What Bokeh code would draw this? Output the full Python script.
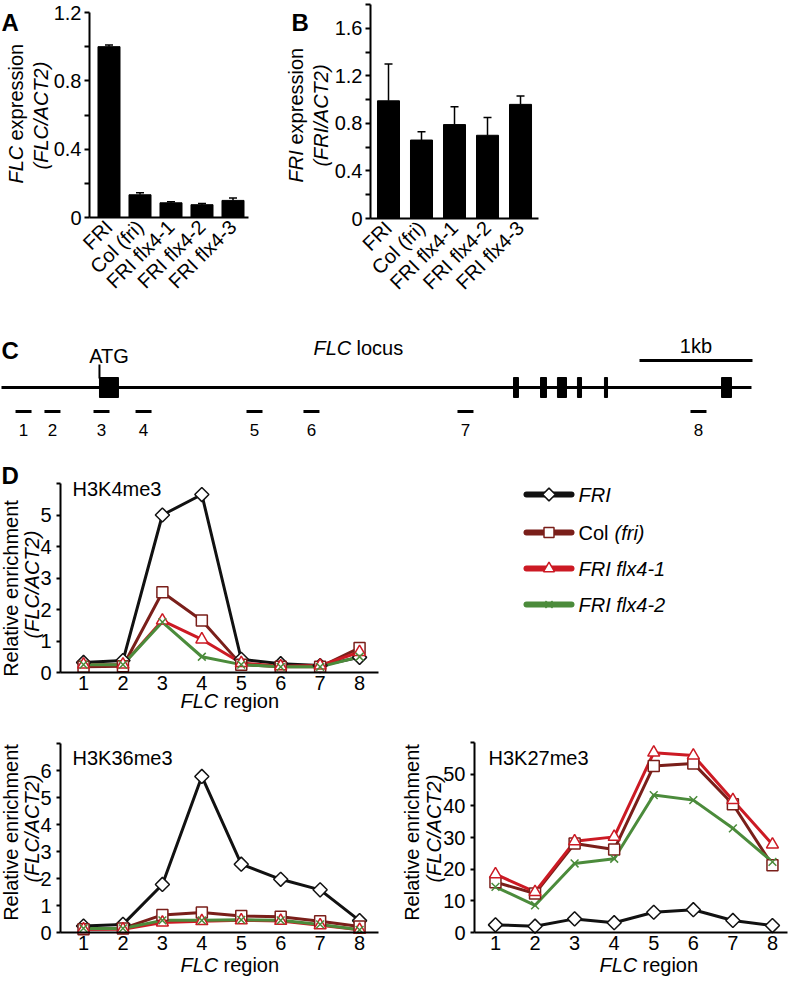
import math
from bokeh.plotting import figure
from bokeh.models import Range1d, FixedTicker, Label, Whisker, TeeHead, ColumnDataSource, LinearAxis
from bokeh.layouts import column, row
from bokeh.core.properties import value
from bokeh.embed import file_html
from bokeh.resources import INLINE

FONT = "Liberation Sans"
FS = "20px"

# ---------------- data ----------------
genotypes = ["FRI", "Col (fri)", "FRI flx4-1", "FRI flx4-2", "FRI flx4-3"]
flc_expression = [1.00, 0.133, 0.086, 0.075, 0.100]
flc_error = [0.010, 0.012, 0.006, 0.007, 0.014]
fri_expression = [0.99, 0.66, 0.79, 0.70, 0.96]
fri_error = [0.31, 0.07, 0.15, 0.15, 0.07]

locus_length_bp = 6637
exon_start_bp = [867, 4531, 4770, 4920, 5097, 5336, 6372]
exon_end_bp = [1035, 4575, 4823, 5000, 5133, 5363, 6460]
atg_bp = 867
primer_center_bp = [195, 451, 885, 1257, 2239, 2743, 4106, 6168]
primer_labels = ["1", "2", "3", "4", "5", "6", "7", "8"]
scale_bar_bp = [5646, 6646]

regions = [1, 2, 3, 4, 5, 6, 7, 8]
series_names = ["FRI", "Col (fri)", "FRI flx4-1", "FRI flx4-2"]

h3k4_fri = [0.32, 0.38, 5.00, 5.65, 0.42, 0.28, 0.22, 0.48]
h3k4_col = [0.18, 0.20, 2.55, 1.65, 0.25, 0.18, 0.18, 0.78]
h3k4_flx41 = [0.25, 0.25, 1.65, 1.05, 0.30, 0.20, 0.22, 0.65]
h3k4_flx42 = [0.25, 0.25, 1.60, 0.50, 0.25, 0.18, 0.18, 0.50]

h3k36_fri = [0.24, 0.30, 1.78, 5.78, 2.53, 1.97, 1.58, 0.44]
h3k36_col = [0.12, 0.15, 0.65, 0.74, 0.61, 0.58, 0.42, 0.22]
h3k36_flx41 = [0.12, 0.12, 0.37, 0.42, 0.45, 0.43, 0.27, 0.10]
h3k36_flx42 = [0.15, 0.15, 0.45, 0.45, 0.47, 0.45, 0.30, 0.10]

h3k27_fri = [2.4, 2.0, 4.3, 3.1, 6.4, 7.2, 3.8, 2.2]
h3k27_col = [15.9, 12.3, 28.1, 26.2, 52.6, 53.4, 40.5, 21.2]
h3k27_flx41 = [18.4, 12.8, 28.8, 30.2, 56.8, 55.9, 41.8, 27.8]
h3k27_flx42 = [14.4, 8.6, 21.8, 23.3, 43.4, 41.8, 32.9, 22.3]

# ---------------- styles ----------------
COLORS = ["#111111", "#7a1f1a", "#cc1a24", "#4b8b3b"]
MARKERS = ["square", "square", "triangle", "x"]
ANGLES = [math.pi / 4, 0, 0, 0]
SIZES = [10, 11, 12, 11]
LEG_SIZES = [9, 10, 11, 10]
ITAL_GAP = 43  # width of an italic "FLC"/"FRI"-like word plus a space, px


def plain_fig(W, H, xr, yr):
    p = figure(width=W, height=H, x_range=Range1d(*xr), y_range=Range1d(*yr),
               output_backend="svg", toolbar_location=None, title=None,
               min_border_left=0, min_border_right=0, min_border_top=0, min_border_bottom=0,
               background_fill_color="white", border_fill_color="white",
               outline_line_color=None, x_axis_location=None, y_axis_location=None)
    p.grid.visible = False
    return p


def axes_fig(W, H, l, r, t, b, xr, yr):
    """Frame spans the whole canvas; axes are fixed at the inner box edges."""
    fw = W - l - r
    fh = H - t - b
    sx = (xr[1] - xr[0]) / fw
    sy = (yr[1] - yr[0]) / fh
    X = (xr[0] - l * sx, xr[1] + r * sx)
    Y = (yr[0] - b * sy, yr[1] + t * sy)
    p = plain_fig(W, H, X, Y)
    xax = LinearAxis(fixed_location=yr[0], bounds=xr)
    yax = LinearAxis(fixed_location=xr[0], bounds=yr)
    p.add_layout(xax, "below")
    p.add_layout(yax, "left")

    def c(px, py):
        return X[0] + px * sx, Y[1] - py * sy
    return p, xax, yax, c


def style_axis(ax, tick_out=5, standoff=4):
    ax.axis_line_width = 2
    ax.axis_line_color = "black"
    ax.major_tick_line_width = 2
    ax.major_tick_line_color = "black"
    ax.major_tick_out = tick_out
    ax.major_tick_in = 0
    ax.minor_tick_out = 0
    ax.minor_tick_in = 0
    ax.major_label_text_font = FONT
    ax.major_label_text_font_size = FS
    ax.major_label_text_color = "black"
    ax.major_label_standoff = standoff


def lab(p, c, px, py, text, style="normal", size=FS, align="left", baseline="middle", angle=0):
    x, y = c(px, py)
    p.add_layout(Label(x=x, y=y, text=text, text_font=FONT, text_font_size=size,
                       text_font_style=style, text_align=align, text_baseline=baseline,
                       angle=angle, text_color="black"))


# ---------------- panels A, B ----------------
def bar_panel(W, H, l, r, t, b, xr, yr, vals, errs, ticks, overrides, bar_w, letter, lx,
              ital, rest, ital_len, line1_x, line1_start, line2, line2_x, line2_y):
    p, xax, yax, c = axes_fig(W, H, l, r, t, b, xr, yr)
    xs = list(range(1, len(vals) + 1))
    src = ColumnDataSource(dict(x=xs, top=vals, upper=[v + e for v, e in zip(vals, errs)]))
    p.vbar(x="x", top="top", width=bar_w, source=src, fill_color="black", line_color="black")
    p.add_layout(Whisker(source=src, base="x", lower="top", upper="upper",
                         line_color="black", line_width=1.5,
                         upper_head=TeeHead(size=8, line_color="black", line_width=1.5),
                         lower_head=None))
    yax.ticker = FixedTicker(ticks=ticks)
    yax.major_label_overrides = overrides
    style_axis(yax, tick_out=5, standoff=3)
    xax.ticker = FixedTicker(ticks=xs)
    xax.major_label_overrides = {i + 1: g for i, g in enumerate(genotypes)}
    xax.major_label_orientation = math.pi / 4
    style_axis(xax, tick_out=0, standoff=6)
    lab(p, c, lx, 22, letter, style="bold", size="24px", baseline="alphabetic")
    lab(p, c, line1_x, line1_start, ital, style="italic", angle=math.pi / 2)
    lab(p, c, line1_x, line1_start - ital_len, rest, angle=math.pi / 2)
    lab(p, c, line2_x, line2_y, line2, style="italic", align="center", angle=math.pi / 2)
    return p


figA = bar_panel(270, 328, 89, 22, 12, 111, (0.371, 5.50), (0, 1.2),
                 flc_expression, flc_error, [0, 0.2, 0.4, 0.6, 0.8, 1.0, 1.2],
                 {0: "0", 0.2: "", 0.4: "0.4", 0.6: "", 0.8: "0.8", 1.0: "", 1.2: "1.2"},
                 0.71, "A", 1, "FLC", "expression", ITAL_GAP, 15, 183, "(FLC/ACT2)", 40, 115)

figB = bar_panel(290, 328, 100, 22, 4, 110, (0.4545, 5.545), (0, 1.8),
                 fri_expression, fri_error, [0, 0.2, 0.4, 0.6, 0.8, 1.0, 1.2, 1.4, 1.6, 1.8],
                 {0: "0", 0.2: "", 0.4: "0.4", 0.6: "", 0.8: "0.8", 1.0: "", 1.2: "1.2",
                  1.4: "", 1.6: "1.6", 1.8: ""},
                 0.667, "B", 21, "FRI", "expression", 38, 25, 182, "(FRI/ACT2)", 50, 115)

# ---------------- panel C ----------------
CW, CH = 789, 112
px_per_bp = 0.113
figC = plain_fig(CW, CH, (-1 / px_per_bp, (CW - 1) / px_per_bp), (CH, 0))


def cC(px, py):
    return (px - 1) / px_per_bp, py


figC.segment(x0=[0], x1=[locus_length_bp], y0=[59], y1=[59], line_color="black", line_width=3)
figC.quad(left=exon_start_bp, right=exon_end_bp, top=[49] * len(exon_start_bp),
          bottom=[69] * len(exon_start_bp), fill_color="black", line_color="black")
figC.segment(x0=[atg_bp], x1=[atg_bp], y0=[36], y1=[50], line_color="black", line_width=2)
figC.segment(x0=[scale_bar_bp[0]], x1=[scale_bar_bp[1]], y0=[32], y1=[32],
             line_color="black", line_width=3)
half = 8 / px_per_bp
figC.segment(x0=[p - half for p in primer_center_bp], x1=[p + half for p in primer_center_bp],
             y0=[83] * 8, y1=[83] * 8, line_color="black", line_width=3)
figC.text(x=primer_center_bp, y=[101] * 8, text=primer_labels, text_font=value(FONT),
          text_font_size="17px", text_align="center", text_baseline="middle", text_color="black")
lab(figC, cC, 1, 22, "C", style="bold", size="24px", baseline="alphabetic")
atg_x = (exon_start_bp[0] + exon_end_bp[0]) / 2
figC.add_layout(Label(x=atg_x, y=27, text="ATG", text_font=FONT, text_font_size=FS,
                      text_align="center", text_baseline="middle", text_color="black"))
lab(figC, cC, 313, 19, "FLC", style="italic")
lab(figC, cC, 313 + ITAL_GAP, 19, "locus")
figC.add_layout(Label(x=sum(scale_bar_bp) / 2, y=17, text="1kb", text_font=FONT,
                      text_font_size=FS, text_align="center", text_baseline="middle",
                      text_color="black"))


# ---------------- panel D ----------------
def d_panel(W, H, l, r, t, b, xr, ymax, step, vals, title, title_x, title_y,
            lab1_x, lab2_x, lab_y, xl_start, xl_y, letter=None):
    yr = (0, ymax)
    p, xax, yax, c = axes_fig(W, H, l, r, t, b, xr, yr)
    for v, col in zip(vals, COLORS):
        p.line(regions, v, line_color=col, line_width=3)
    for v, col, mk, ang, sz in zip(vals, COLORS, MARKERS, ANGLES, SIZES):
        p.scatter(regions, v, marker=mk, angle=ang, size=sz, line_color=col,
                  fill_color="white", line_width=1.5)
    xax.ticker = FixedTicker(ticks=regions)
    style_axis(xax, tick_out=0, standoff=3)
    yax.ticker = FixedTicker(ticks=list(range(0, ymax + 1, step)))
    yax.major_label_overrides = {ymax: ""}
    style_axis(yax, tick_out=4, standoff=5)
    lab(p, c, title_x, title_y, title)
    lab(p, c, lab1_x, lab_y + 4, "Relative enrichment", align="center", angle=math.pi / 2)
    lab(p, c, lab2_x, lab_y, "(FLC/ACT2)", style="italic", align="center", angle=math.pi / 2)
    lab(p, c, xl_start, xl_y, "FLC", style="italic")
    lab(p, c, xl_start + ITAL_GAP, xl_y, "region")
    if letter:
        lab(p, c, 1, 35, letter, style="bold", size="24px", baseline="alphabetic")
    return p


figD1 = d_panel(400, 275, 60, 22, 43, 43, (0.416, 8.48), 6, 1,
                [h3k4_fri, h3k4_col, h3k4_flx41, h3k4_flx42], "H3K4me3", 72, 48,
                10, 31, 144, 180, 260, letter="D")
figD2 = d_panel(400, 262, 60, 22, 28, 45, (0.416, 8.48), 7, 1,
                [h3k36_fri, h3k36_col, h3k36_flx41, h3k36_flx42], "H3K36me3", 72, 42,
                10, 31, 113, 180, 249)
figD3 = d_panel(389, 262, 74, 2, 27, 45, (0.47, 8.38), 60, 10,
                [h3k27_fri, h3k27_col, h3k27_flx41, h3k27_flx42], "H3K27me3", 88, 42,
                11, 33, 113, 199, 249)

# ---------------- legend ----------------
LW, LH = 389, 275
figL = plain_fig(LW, LH, (0, LW), (LH, 0))
ident = lambda a, b: (a, b)
leg_y = [54, 92, 128, 164]
figL.segment(x0=[126] * 4, x1=[171] * 4, y0=leg_y, y1=leg_y, line_color=COLORS,
             line_width=6, line_cap="round")
for yy, col, mk, ang, sz in zip(leg_y, COLORS, MARKERS, ANGLES, LEG_SIZES):
    figL.scatter([148.5], [yy], marker=mk, angle=ang, size=sz, line_color=col,
                 fill_color="white", line_width=1.5)
lab(figL, ident, 178, leg_y[0], series_names[0], style="italic")
lab(figL, ident, 178, leg_y[1], "Col")
lab(figL, ident, 214, leg_y[1], "(fri)", style="italic")
lab(figL, ident, 178, leg_y[2], series_names[2], style="italic")
lab(figL, ident, 178, leg_y[3], series_names[3], style="italic")

layout = column(row(figA, figB), figC, row(figD1, figL), row(figD2, figD3))

open("out.html", "w").write(file_html(layout, INLINE))
